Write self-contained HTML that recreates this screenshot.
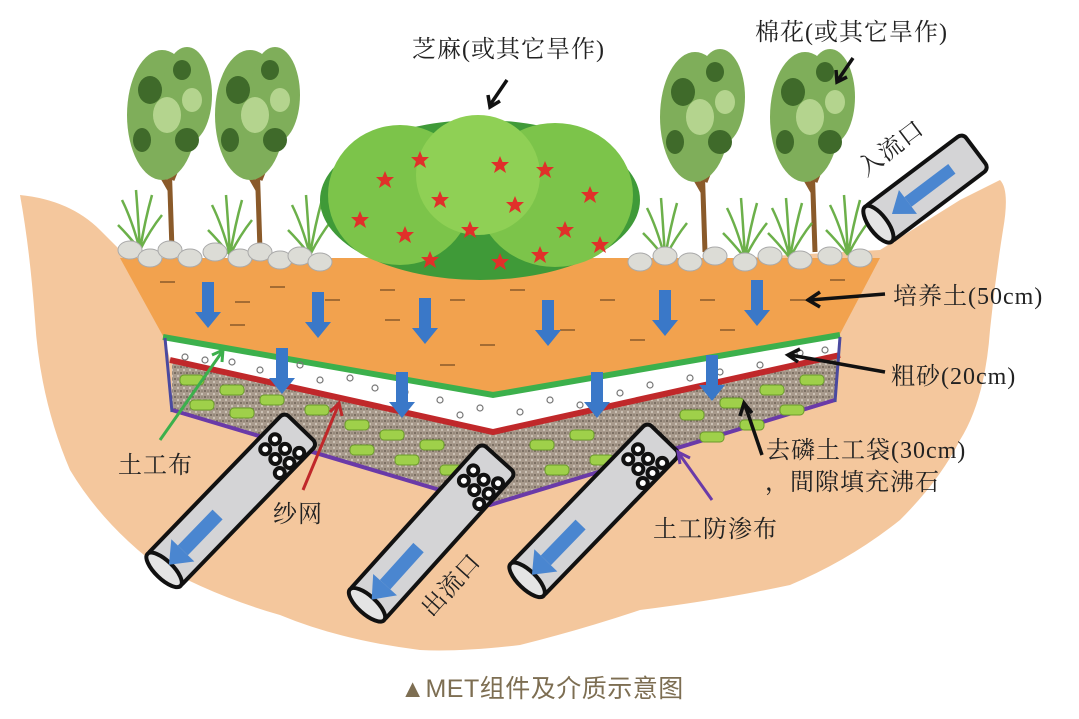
<!DOCTYPE html>
<html><head><meta charset="utf-8"><style>
html,body{margin:0;padding:0;background:#fff;}
svg{display:block}
text{font-family:"Liberation Serif","Noto Serif CJK SC",serif;fill:#222;letter-spacing:1px}
</style></head><body>
<svg width="1079" height="719" viewBox="0 0 1079 719" xmlns="http://www.w3.org/2000/svg">
<defs>
<pattern id="grav" width="6" height="6" patternUnits="userSpaceOnUse">
<rect width="6" height="6" fill="#a89a8c"/><circle cx="1" cy="1" r="1" fill="#6e6258"/><circle cx="4" cy="4" r="1" fill="#d8cfc4"/><circle cx="4" cy="1" r=".8" fill="#807468"/>
</pattern>
<g id="arrowD"><rect x="-6" y="0" width="12" height="36" fill="#3a78c8"/><polygon points="-13,30 13,30 0,46" fill="#3a78c8"/></g>
<g id="pipe"><rect x="0" y="-23" width="200" height="46" rx="6" fill="#d4d4d6" stroke="#111" stroke-width="4"/><ellipse cx="3" cy="0" rx="9" ry="23" fill="#e4e4e4" stroke="#111" stroke-width="4"/>
<rect x="30" y="-7" width="50" height="14" fill="#4a86d0"/><polygon points="30,-16 30,16 10,0" fill="#4a86d0"/>
<g fill="#fff" stroke="#111" stroke-width="4"><circle cx="160" cy="-11" r="5"/><circle cx="160" cy="3" r="5"/><circle cx="174" cy="-11" r="5"/><circle cx="174" cy="3" r="5"/><circle cx="167" cy="16" r="5"/><circle cx="181" cy="16" r="5"/><circle cx="153" cy="16" r="5"/></g></g>
<g id="tree">
<path d="M0,0 L-3,-90 M-2,-60 L-25,-100 M0,-70 L20,-120" stroke="#8a5a2a" stroke-width="5" fill="none"/>
<g fill="#7fae5a"><ellipse cx="-10" cy="-135" rx="35" ry="65"/><ellipse cx="15" cy="-155" rx="25" ry="48"/></g>
<g fill="#3f6a2a"><ellipse cx="-22" cy="-160" rx="12" ry="14"/><ellipse cx="15" cy="-110" rx="12" ry="12"/><ellipse cx="-30" cy="-110" rx="9" ry="12"/><ellipse cx="10" cy="-180" rx="9" ry="10"/></g>
<g fill="#b4d48e"><ellipse cx="-5" cy="-135" rx="14" ry="18"/><ellipse cx="20" cy="-150" rx="10" ry="12"/></g>
</g>
<g id="grass" stroke="#6cb04a" stroke-width="2.5" fill="none"><path d="M0,0 Q-8,-30 -18,-50 M0,0 Q-2,-35 -4,-60 M0,0 Q5,-30 12,-55 M0,0 Q10,-20 22,-35 M0,0 Q-12,-15 -22,-25"/></g>
<g id="star"><polygon points="0,-9 2.5,-3 9,-3 4,1.5 6,8 0,4 -6,8 -4,1.5 -9,-3 -2.5,-3" fill="#e0302a"/></g>
</defs>

<path d="M20,195 Q70,200 100,230 L140,270 L700,260 L880,250 L960,200 L1000,180 Q1010,190 1003,230 Q995,280 990,330 Q985,400 960,440 Q940,480 900,520 Q850,560 790,585 Q720,600 640,610 Q580,630 520,645 Q460,652 420,650 Q340,640 280,615 Q210,595 150,560 Q100,520 70,470 Q40,400 35,320 Q30,250 20,195 Z" fill="#f4c79d"/>

<polygon points="172,362 493,432 840,356 835,402 490,505 172,412" fill="url(#grav)"/>
<polyline points="172,410 490,505 835,400" fill="none" stroke="#6a3aa8" stroke-width="4"/>
<polygon points="165,338 493,396 840,337 840,355 493,432 170,360" fill="#fff"/>
<polyline points="170,360 493,432 840,355" fill="none" stroke="#c0282a" stroke-width="6"/>
<polygon points="120,258 880,258 840,334 493,394 163,336" fill="#f2a24e"/>
<polyline points="163,337 493,395 840,335" fill="none" stroke="#3cb04c" stroke-width="6"/>
<line x1="165" y1="338" x2="172" y2="412" stroke="#4a4aa0" stroke-width="3"/>
<line x1="840" y1="337" x2="835" y2="402" stroke="#4a4aa0" stroke-width="3"/>

<g fill="none" stroke="#777" stroke-width="1.2">
<circle cx="185" cy="357" r="3"/><circle cx="205" cy="360" r="3"/><circle cx="232" cy="362" r="3"/><circle cx="260" cy="370" r="3"/><circle cx="300" cy="365" r="3"/><circle cx="320" cy="380" r="3"/><circle cx="350" cy="378" r="3"/><circle cx="375" cy="388" r="3"/><circle cx="405" cy="392" r="3"/><circle cx="440" cy="400" r="3"/><circle cx="460" cy="415" r="3"/><circle cx="480" cy="408" r="3"/><circle cx="520" cy="412" r="3"/><circle cx="550" cy="400" r="3"/><circle cx="580" cy="405" r="3"/><circle cx="620" cy="393" r="3"/><circle cx="650" cy="385" r="3"/><circle cx="690" cy="378" r="3"/><circle cx="720" cy="372" r="3"/><circle cx="760" cy="365" r="3"/><circle cx="800" cy="353" r="3"/><circle cx="825" cy="350" r="3"/>
</g>
<g fill="#9fd04a" stroke="#6a9a2a" stroke-width="1">
<rect x="180" y="375" width="24" height="10" rx="4"/><rect x="220" y="385" width="24" height="10" rx="4"/><rect x="190" y="400" width="24" height="10" rx="4"/><rect x="230" y="408" width="24" height="10" rx="4"/><rect x="260" y="395" width="24" height="10" rx="4"/><rect x="305" y="405" width="24" height="10" rx="4"/><rect x="345" y="420" width="24" height="10" rx="4"/><rect x="380" y="430" width="24" height="10" rx="4"/><rect x="420" y="440" width="24" height="10" rx="4"/><rect x="395" y="455" width="24" height="10" rx="4"/><rect x="440" y="465" width="24" height="10" rx="4"/><rect x="350" y="445" width="24" height="10" rx="4"/><rect x="530" y="440" width="24" height="10" rx="4"/><rect x="570" y="430" width="24" height="10" rx="4"/><rect x="545" y="465" width="24" height="10" rx="4"/><rect x="590" y="455" width="24" height="10" rx="4"/><rect x="680" y="410" width="24" height="10" rx="4"/><rect x="720" y="398" width="24" height="10" rx="4"/><rect x="760" y="385" width="24" height="10" rx="4"/><rect x="800" y="375" width="24" height="10" rx="4"/><rect x="740" y="420" width="24" height="10" rx="4"/><rect x="780" y="405" width="24" height="10" rx="4"/><rect x="700" y="432" width="24" height="10" rx="4"/>
</g>
<g stroke="#8a5a2a" stroke-width="1.5">
<line x1="160" y1="282" x2="175" y2="282"/><line x1="235" y1="302" x2="250" y2="302"/><line x1="270" y1="287" x2="285" y2="287"/><line x1="325" y1="300" x2="340" y2="300"/><line x1="380" y1="290" x2="395" y2="290"/><line x1="385" y1="320" x2="400" y2="320"/><line x1="450" y1="300" x2="465" y2="300"/><line x1="480" y1="345" x2="495" y2="345"/><line x1="510" y1="290" x2="525" y2="290"/><line x1="560" y1="330" x2="575" y2="330"/><line x1="600" y1="300" x2="615" y2="300"/><line x1="630" y1="340" x2="645" y2="340"/><line x1="700" y1="300" x2="715" y2="300"/><line x1="720" y1="330" x2="735" y2="330"/><line x1="790" y1="300" x2="805" y2="300"/><line x1="830" y1="280" x2="845" y2="280"/><line x1="440" y1="365" x2="455" y2="365"/><line x1="230" y1="325" x2="245" y2="325"/>
</g>
<use href="#arrowD" x="208" y="282"/><use href="#arrowD" x="318" y="292"/><use href="#arrowD" x="425" y="298"/><use href="#arrowD" x="548" y="300"/><use href="#arrowD" x="665" y="290"/><use href="#arrowD" x="757" y="280"/>
<use href="#arrowD" x="282" y="348"/><use href="#arrowD" x="402" y="372"/><use href="#arrowD" x="597" y="372"/><use href="#arrowD" x="712" y="355"/>

<use href="#tree" x="172" y="250"/><use href="#tree" x="260" y="250"/><use href="#tree" x="705" y="252"/><use href="#tree" x="815" y="252"/>
<use href="#grass" x="140" y="250"/><use href="#grass" x="230" y="255"/><use href="#grass" x="310" y="255"/><use href="#grass" x="665" y="258"/><use href="#grass" x="745" y="258"/><use href="#grass" x="790" y="258"/><use href="#grass" x="848" y="255"/>
<g>
<ellipse cx="480" cy="200" rx="160" ry="80" fill="#3f9a38"/>
<ellipse cx="400" cy="195" rx="72" ry="70" fill="#7cc44a"/><ellipse cx="555" cy="195" rx="78" ry="72" fill="#7cc44a"/><ellipse cx="478" cy="175" rx="62" ry="60" fill="#8fd055"/>
<use href="#star" x="385" y="180"/><use href="#star" x="420" y="160"/><use href="#star" x="405" y="235"/><use href="#star" x="440" y="200"/><use href="#star" x="470" y="230"/><use href="#star" x="500" y="165"/><use href="#star" x="515" y="205"/><use href="#star" x="545" y="170"/><use href="#star" x="565" y="230"/><use href="#star" x="590" y="195"/><use href="#star" x="600" y="245"/><use href="#star" x="360" y="220"/><use href="#star" x="500" y="262"/><use href="#star" x="430" y="260"/><use href="#star" x="540" y="255"/>
</g>
<g fill="#dcdcd6" stroke="#aaa" stroke-width="1">
<ellipse cx="130" cy="250" rx="12" ry="9"/><ellipse cx="150" cy="258" rx="12" ry="9"/><ellipse cx="170" cy="250" rx="12" ry="9"/><ellipse cx="190" cy="258" rx="12" ry="9"/><ellipse cx="215" cy="252" rx="12" ry="9"/><ellipse cx="240" cy="258" rx="12" ry="9"/><ellipse cx="260" cy="252" rx="12" ry="9"/><ellipse cx="280" cy="260" rx="12" ry="9"/><ellipse cx="300" cy="256" rx="12" ry="9"/><ellipse cx="320" cy="262" rx="12" ry="9"/>
<ellipse cx="640" cy="262" rx="12" ry="9"/><ellipse cx="665" cy="256" rx="12" ry="9"/><ellipse cx="690" cy="262" rx="12" ry="9"/><ellipse cx="715" cy="256" rx="12" ry="9"/><ellipse cx="745" cy="262" rx="12" ry="9"/><ellipse cx="770" cy="256" rx="12" ry="9"/><ellipse cx="800" cy="260" rx="12" ry="9"/><ellipse cx="830" cy="256" rx="12" ry="9"/><ellipse cx="860" cy="258" rx="12" ry="9"/>
</g>

<use href="#pipe" transform="translate(162,572) rotate(-46)"/>
<use href="#pipe" transform="translate(365,607) rotate(-48)"/>
<use href="#pipe" transform="translate(525,582) rotate(-46)"/>
<g transform="translate(876,226) rotate(-37)"><rect x="0" y="-22" width="125" height="44" rx="6" fill="#d4d4d6" stroke="#111" stroke-width="4"/><ellipse cx="3" cy="0" rx="9" ry="22" fill="#e4e4e4" stroke="#111" stroke-width="4"/><rect x="40" y="-6" width="55" height="12" fill="#4a86d0"/><polygon points="40,-15 40,15 20,0" fill="#4a86d0"/></g>

<g stroke="#111" stroke-width="3.5" fill="none">
<line x1="507" y1="80" x2="490" y2="105"/><polyline points="488,95 490,107 500,101"/>
<line x1="853" y1="58" x2="838" y2="80"/><polyline points="836,70 837,82 847,77"/>
<line x1="885" y1="294" x2="810" y2="300"/><polyline points="820,292 808,300 820,307"/>
<line x1="885" y1="372" x2="790" y2="355"/><polyline points="800,349 788,355 798,362"/>
<line x1="762" y1="455" x2="745" y2="405"/><polyline points="740,416 744,403 752,413"/>
</g>
<g fill="none" stroke-width="3">
<line x1="160" y1="440" x2="222" y2="352" stroke="#3cb04c"/><polyline points="212,355 223,350 222,362" stroke="#3cb04c"/>
<line x1="303" y1="490" x2="338" y2="406" stroke="#c0282a"/><polyline points="330,412 339,403 342,416" stroke="#c0282a"/>
<line x1="712" y1="500" x2="680" y2="455" stroke="#6a3aa8"/><polyline points="690,458 678,452 680,464" stroke="#6a3aa8"/>
</g>

<text x="412" y="57" font-size="24">芝麻(或其它旱作)</text>
<text x="755" y="40" font-size="24">棉花(或其它旱作)</text>
<text x="893" y="304" font-size="24">培养土(50cm)</text>
<text x="891" y="384" font-size="24">粗砂(20cm)</text>
<text x="766" y="458" font-size="24">去磷土工袋(30cm)</text>
<text x="765" y="490" font-size="24">，間隙填充沸石</text>
<text x="653" y="537" font-size="24">土工防渗布</text>
<text x="118" y="473" font-size="24">土工布</text>
<text x="273" y="522" font-size="24">纱网</text>
<text transform="translate(432,618) rotate(-48)" font-size="24">出流口</text>
<text transform="translate(866,177) rotate(-37)" font-size="24">入流口</text>
<text x="542" y="697" font-size="25" text-anchor="middle" style="font-family:'Liberation Sans','Noto Sans CJK SC',sans-serif;fill:#7d6e52;letter-spacing:0.5px">▲MET组件及介质示意图</text>
</svg>
</body></html>
